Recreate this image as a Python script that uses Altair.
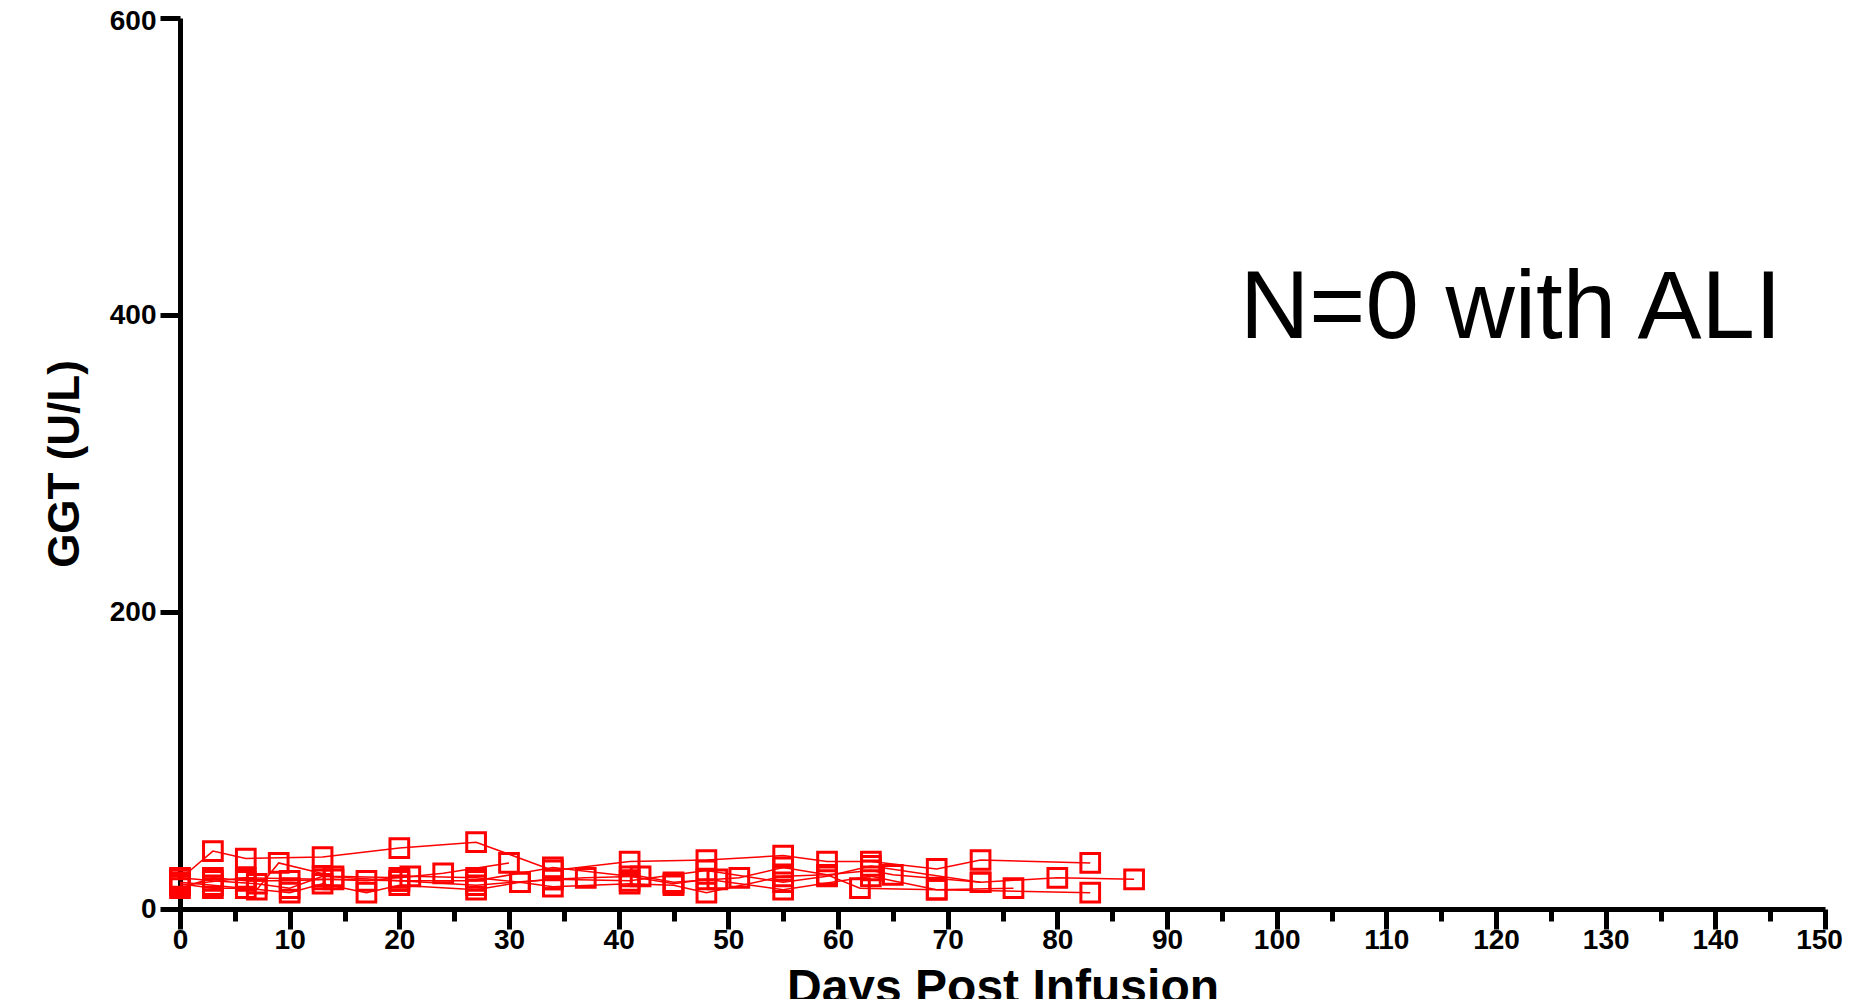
import altair as alt
import pandas as pd

# Patient series: days post infusion and GGT (U/L) values
p1_days = [0, 3, 6, 13, 20, 27, 34, 41, 48, 55, 59, 63, 69, 73, 83]
p1_vals = [20, 39, 34, 35, 41, 45, 26, 32, 33, 36, 32, 32, 27, 33, 31]

p2_days = [0, 3, 7, 9, 14, 20, 24, 30]
p2_vals = [18, 16, 13, 31, 22, 21, 24, 31]

p3_days = [0, 3, 6, 10, 13, 17, 20, 27, 31, 34, 41, 45, 48, 55, 59, 62, 69, 76]
p3_vals = [17, 14, 14, 11, 17, 11, 16, 13, 18, 15, 17, 16, 11, 22, 23, 14, 13, 14]

p4_days = [0, 3, 6, 10, 14, 17, 21, 27, 31, 34, 37, 42, 45, 49, 51, 55, 59, 63, 65, 73, 80, 87]
p4_vals = [14, 21, 19, 19, 20, 19, 22, 21, 18, 20, 21, 22, 18, 20, 21, 28, 23, 26, 23, 18, 21, 20]

p5_days = [0, 3, 7, 10, 13, 20, 27, 34, 41, 45, 48, 55, 63, 69, 83]
p5_vals = [21, 19, 17, 14, 22, 19, 19, 28, 22, 17, 20, 13, 22, 13, 11]

p6_days = [0, 6, 13, 20, 27, 34, 41, 48, 55, 59, 63, 73]
p6_vals = [16, 21, 20, 19, 16, 20, 19, 26, 18, 22, 29, 18]

series = {
    "P1": (p1_days, p1_vals),
    "P2": (p2_days, p2_vals),
    "P3": (p3_days, p3_vals),
    "P4": (p4_days, p4_vals),
    "P5": (p5_days, p5_vals),
    "P6": (p6_days, p6_vals),
}

x_ticks = list(range(0, 151, 5))
y_ticks = [0, 200, 400, 600]
annotation = "N=0 with ALI"

rows = []
for name, (ds, vs) in series.items():
    for d, v in zip(ds, vs):
        rows.append({"patient": name, "day": d, "ggt": v})
df = pd.DataFrame(rows)

RED = "#FF0000"
FONT = "Liberation Sans"

x_enc = alt.X(
    "day:Q",
    scale=alt.Scale(domain=[0, 150], nice=False, zero=False),
    axis=alt.Axis(
        title="Days Post Infusion",
        titleFontSize=48,
        values=x_ticks,
        labelExpr="datum.value % 10 === 0 ? datum.label : ''",
        tickSize={"condition": {"test": "datum.value % 10 === 0", "value": 20}, "value": 12},
        labelOffset={"condition": {"test": "datum.value === 150", "value": -6}, "value": 0},
        labelPadding=-3,
        titlePadding=10,
        labelFlush=False,
        labelOverlap=False,
    ),
)
y_enc = alt.Y(
    "ggt:Q",
    scale=alt.Scale(domain=[0, 600], nice=False),
    axis=alt.Axis(
        title="GGT (U/L)",
        values=y_ticks,
        tickSize=20,
        labelOffset={"condition": {"test": "datum.value === 600", "value": 3}, "value": 0},
        labelPadding=4,
        titlePadding=22,
        labelFlush=False,
    ),
)

base = alt.Chart(df)
lines = base.mark_line(color=RED, strokeWidth=1.5).encode(
    x=x_enc, y=y_enc, detail="patient:N", order="day:Q"
)
points = base.mark_point(
    shape="square", size=350, filled=False, color=RED, strokeWidth=3, opacity=1
).encode(x="day:Q", y="ggt:Q")

text = alt.Chart(pd.DataFrame({"t": [annotation]})).mark_text(
    font=FONT, fontSize=96, align="left", baseline="alphabetic", color="black"
).encode(text="t:N", x=alt.value(1060), y=alt.value(320))

chart = (
    alt.layer(lines, points, text)
    .properties(
        width=1645,
        height=891,
        autosize=alt.AutoSizeParams(type="none"),
        padding={"left": 172, "top": 10, "right": 18, "bottom": 90},
    )
    .configure_view(stroke=None)
    .configure_axis(
        grid=False,
        domainColor="black",
        domainWidth=5,
        tickColor="black",
        tickWidth=5,
        labelFont=FONT,
        labelFontWeight="bold",
        labelFontSize=28,
        labelColor="black",
        titleFont=FONT,
        titleFontWeight="bold",
        titleFontSize=44,
        titleColor="black",
    )
)

chart.save("out.html", embed_options={"renderer": "svg", "actions": False})
